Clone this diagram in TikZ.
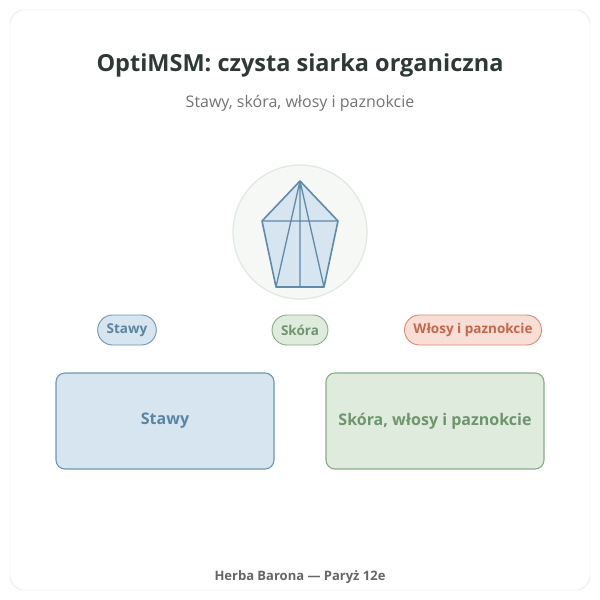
\documentclass[tikz,border=0pt]{standalone}
\usepackage{fontspec}
\setmainfont{Open Sans}
\begin{document}
\begin{tikzpicture}[x=1pt,y=-1pt,
  pill/.style n args={3}{draw=#2, fill=#1, text=#3, rounded corners=15pt, line width=0.9pt, minimum height=30pt, inner xsep=9pt, font=\bfseries\fontsize{13.5}{15}\selectfont},
  box/.style n args={3}{draw=#2, fill=#1, text=#3, rounded corners=9pt, line width=1.1pt, minimum width=218pt, minimum height=96pt, font=\bfseries\fontsize{16}{18}\selectfont}]
\definecolor{bf}{HTML}{D6E5EF}\definecolor{bs}{HTML}{6C97B3}\definecolor{bt}{HTML}{5A84A1}
\definecolor{gf}{HTML}{DEEBDD}\definecolor{gs}{HTML}{88AD87}\definecolor{gt}{HTML}{6E956D}
\definecolor{rf}{HTML}{F8DED4}\definecolor{rs}{HTML}{DA8B76}\definecolor{rt}{HTML}{C4664D}
\definecolor{line}{HTML}{5E8BA8}
\useasboundingbox (0,0) rectangle (600,600);
\fill[white] (0,0) rectangle (600,600);
\draw[draw=black!12, fill=white, rounded corners=14pt] (10,10) rectangle (590,590);
\node[font=\bfseries\fontsize{23.5}{28}\selectfont, text={rgb,255:red,44;green,58;blue,51}] (title) at (300,65) {OptiMSM: czysta siarka organiczna};
\node[font=\fontsize{16}{19}\selectfont, text=black!55] (sub) at (300,103) {Stawy, skóra, włosy i paznokcie};
\node[circle, draw={rgb,255:red,226;green,232;blue,226}, fill={rgb,255:red,246;green,248;blue,245}, line width=1.2pt, minimum size=134pt] (c) at (300,232) {};
\draw[line, fill=bf, line width=1.6pt, line join=round]
  (300,181) -- (338,221) -- (324,287) -- (276,287) -- (262,221) -- cycle;
\draw[line, line width=1.3pt] (262,221) -- (338,221) (300,181) -- (300,287) (300,181) -- (276,287) (300,181) -- (324,287);
\node[pill={bf}{bs}{bt}] (p1) at (127,330) {Stawy};
\node[pill={gf}{gs}{gt}] (p2) at (300,330) {Skóra};
\node[pill={rf}{rs}{rt}] (p3) at (473,330) {Włosy i paznokcie};
\node[box={bf}{bs}{bt}] (b1) at (165,421) {Stawy};
\node[box={gf}{gs}{gt}] (b2) at (435,421) {Skóra, włosy i paznokcie};
\node[font=\bfseries\fontsize{13}{15}\selectfont, text=black!60] (foot) at (300,577) {Herba Barona — Paryż 12e};
\end{tikzpicture}
\end{document}
